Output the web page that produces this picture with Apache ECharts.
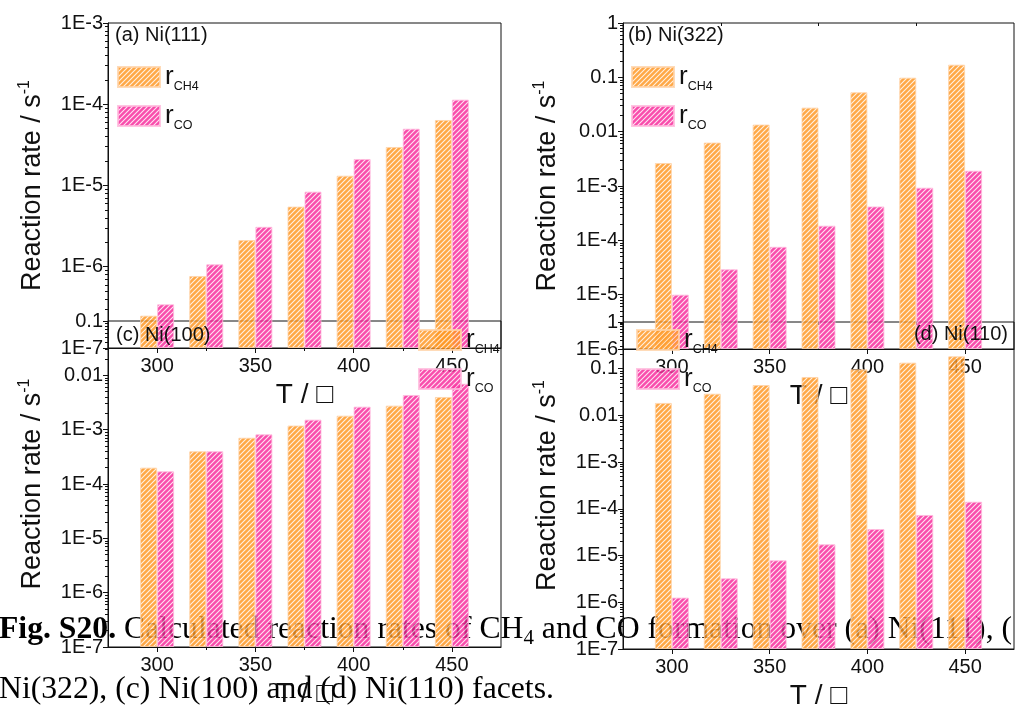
<!DOCTYPE html>
<html>
<head>
<meta charset="utf-8">
<script src="https://cdn.jsdelivr.net/npm/echarts@6/dist/echarts.min.js"></script>
<style>
  html, body { margin: 0; padding: 0; background: #fff; }
  #chart { width: 1017px; height: 715px; }
</style>
</head>
<body>
<div id="chart"></div>
<script>
// temperatures (°C)
const temps = [300, 325, 350, 375, 400, 425, 450];
const xTicks = [300, 350, 400, 450];
const xMinor = [325, 375, 425];

// reaction rates / s-1
const ch4_111 = [2.5e-7, 7.7e-7, 2.13e-6, 5.5e-6, 1.32e-5, 2.98e-5, 6.4e-5];
const co_111 = [3.45e-7, 1.07e-6, 3.1e-6, 8.4e-6, 2.12e-5, 5.0e-5, 1.14e-4];
const ch4_322 = [2.65e-3, 6.3e-3, 0.0135, 0.0277, 0.053, 0.0986, 0.171];
const co_322 = [1.0e-5, 2.93e-5, 7.6e-5, 1.86e-4, 4.2e-4, 9.3e-4, 1.91e-3];
const ch4_100 = [2.0e-4, 4.0e-4, 7.1e-4, 1.19e-3, 1.81e-3, 2.77e-3, 4.0e-3];
const co_100 = [1.71e-4, 4.0e-4, 8.2e-4, 1.53e-3, 2.65e-3, 4.35e-3, 7.0e-3];
const ch4_110 = [0.0185, 0.0292, 0.0448, 0.0665, 0.097, 0.135, 0.184];
const co_110 = [1.26e-6, 3.25e-6, 7.9e-6, 1.74e-5, 3.7e-5, 7.4e-5, 1.42e-4];

const panelLabels = ['(a) Ni(111)', '(b) Ni(322)', '(c) Ni(100)', '(d) Ni(110)'];
const yRanges = [[1e-7, 1e-3], [1e-6, 1], [1e-7, 0.1], [1e-7, 1]];
const ch4Sets = [ch4_111, ch4_322, ch4_100, ch4_110];
const coSets = [co_111, co_322, co_100, co_110];

const captionLine1 = '{b|Fig. S20.} Calculated reaction rates of CH{s|4} and CO formation over (a) Ni(111), (';
const captionLine2 = 'Ni(322), (c) Ni(100) and (d) Ni(110) facets.';

// layout of the four panels
const layout = [
  { left: 108, top: 23, width: 393, height: 325, labelX: 115, labelY: 25, align: 'left', legend: [117, 64] },
  { left: 623, top: 23, width: 391, height: 326, labelX: 628, labelY: 25, align: 'left', legend: [631, 64] },
  { left: 108, top: 321, width: 393, height: 326, labelX: 116, labelY: 325, align: 'left', legend: [418, 327] },
  { left: 623, top: 322, width: 391, height: 327, labelX: 1008, labelY: 324, align: 'right', legend: [636, 327] }
];

const SANS = 'Liberation Sans, Arial, sans-serif';
const SERIF = 'Liberation Serif, Times New Roman, serif';

function hatch(base) {
  const c = document.createElement('canvas');
  c.width = 5; c.height = 5;
  const g = c.getContext('2d');
  g.fillStyle = base;
  g.fillRect(0, 0, 5, 5);
  g.strokeStyle = 'rgba(255,255,255,0.85)';
  g.lineWidth = 1.1;
  g.beginPath();
  g.moveTo(-1, 6); g.lineTo(6, -1);
  g.moveTo(-3.5, 3.5); g.lineTo(3.5, -3.5);
  g.moveTo(1.5, 8.5); g.lineTo(8.5, 1.5);
  g.stroke();
  return { image: c, repeat: 'repeat' };
}
const orangeFill = hatch('#ff951e');
const pinkFill = hatch('#f8269a');

function logLabel(v) {
  const e = Math.round(Math.log10(v));
  if (e === 0) return '1';
  if (e >= -2) return Math.pow(10, e).toFixed(-e);
  return '1E' + e;
}

function minorLogTicks(range) {
  const out = [];
  const lo = Math.round(Math.log10(range[0]));
  const hi = Math.round(Math.log10(range[1]));
  for (let e = lo; e < hi; e++) {
    for (let k = 2; k <= 9; k++) out.push(e + Math.log10(k));
  }
  return out;
}

const grids = [], xAxes = [], yAxes = [], series = [], legends = [], graphics = [];

layout.forEach(function (L, p) {
  const range = yRanges[p];
  grids.push({
    left: L.left, top: L.top, width: L.width, height: L.height,
    show: true, borderColor: '#111', borderWidth: 1, backgroundColor: 'transparent'
  });
  xAxes.push({
    type: 'value', gridIndex: p, min: 275, max: 475, position: 'bottom',
    axisLine: { show: true, onZero: false, lineStyle: { color: '#111', width: 1 } },
    axisTick: { show: true, length: 5, customValues: xTicks, lineStyle: { color: '#111' } },
    axisLabel: { customValues: xTicks, fontSize: 20, margin: 8, color: '#111', fontFamily: SANS },
    splitLine: { show: false },
    name: 'T / \u25A1', nameLocation: 'middle', nameGap: 33,
    nameTextStyle: { fontSize: 28, color: '#111', fontFamily: SANS }
  });
  xAxes.push({
    type: 'value', gridIndex: p, min: 275, max: 475, position: 'bottom',
    axisLine: { show: false },
    axisTick: { show: true, length: 3, customValues: xMinor, lineStyle: { color: '#111' } },
    axisLabel: { show: false },
    splitLine: { show: false }
  });
  yAxes.push({
    type: 'log', logBase: 10, gridIndex: p, min: range[0], max: range[1], startValue: range[0],
    position: 'left',
    axisLine: { show: true, lineStyle: { color: '#111', width: 1 } },
    axisTick: { show: true, length: 5, lineStyle: { color: '#111' } },
    axisLabel: { fontSize: 20, margin: 5, color: '#111', fontFamily: SANS, formatter: logLabel },
    splitLine: { show: false },
    name: 'Reaction rate / s{p|-1}', nameLocation: 'middle', nameGap: 59,
    nameTextStyle: {
      fontSize: 27, lineHeight: 32, color: '#111', fontFamily: SANS,
      rich: { p: { fontSize: 16, padding: [0, 0, 16, 0], color: '#111', fontFamily: SANS } }
    }
  });
  yAxes.push({
    type: 'value', gridIndex: p, position: 'left',
    min: Math.log10(range[0]), max: Math.log10(range[1]),
    axisLine: { show: false },
    axisTick: { show: true, length: 3, customValues: minorLogTicks(range), lineStyle: { color: '#111' } },
    axisLabel: { show: false },
    splitLine: { show: false }
  });

  const common = {
    type: 'bar', xAxisIndex: 2 * p, yAxisIndex: 2 * p,
    barWidth: 17, barGap: '0%', silent: true,
    emphasis: { disabled: true }
  };
  series.push(Object.assign({}, common, {
    name: 'rCH4',
    data: temps.map((t, i) => [t, ch4Sets[p][i]]),
    itemStyle: { color: orangeFill, borderColor: '#ffd3a8', borderWidth: 1, opacity: 0.82 }
  }));
  series.push(Object.assign({}, common, {
    name: 'rCO',
    data: temps.map((t, i) => [t, coSets[p][i]]),
    itemStyle: { color: pinkFill, borderColor: '#ffb8dc', borderWidth: 1, opacity: 0.82 }
  }));

  legends.push({
    orient: 'vertical', left: L.legend[0], top: L.legend[1], padding: 0,
    itemWidth: 42, itemHeight: 20, itemGap: 10, icon: 'rect', selectedMode: false,
    data: ['rCH4', 'rCO'],
    formatter: function (n) { return 'r{s|' + n.slice(1) + '}'; },
    textStyle: {
      fontSize: 26, lineHeight: 26, color: '#111', fontFamily: SANS,
      rich: { s: { fontSize: 12.5, padding: [19, 0, 0, 0], color: '#111', fontFamily: SANS } }
    }
  });

  graphics.push({
    type: 'text', z: 100,
    left: L.align === 'left' ? L.labelX : null,
    right: L.align === 'right' ? 1017 - L.labelX : null,
    top: L.labelY,
    style: { text: panelLabels[p], fontSize: 20, fill: '#111', fontFamily: SANS }
  });
});

graphics.push({
  type: 'text', z: -1, left: -1, top: 610, silent: true,
  style: {
    text: captionLine1, fontSize: 31.7, lineHeight: 40, fill: '#000', fontFamily: SERIF,
    rich: {
      b: { fontSize: 31.7, fontWeight: 'bold', fontFamily: SERIF, fill: '#000' },
      s: { fontSize: 21, lineHeight: 20, padding: [16, 0, 0, 0], fontFamily: SERIF, fill: '#000' }
    }
  }
});
graphics.push({
  type: 'text', z: -1, left: -1, top: 670, silent: true,
  style: { text: captionLine2, fontSize: 31.7, lineHeight: 40, fill: '#000', fontFamily: SERIF }
});

const chart = echarts.init(document.getElementById('chart'), null, { renderer: 'canvas' });
chart.setOption({
  animation: false,
  backgroundColor: '#fff',
  grid: grids,
  xAxis: xAxes,
  yAxis: yAxes,
  legend: legends,
  graphic: { elements: graphics },
  series: series
});
</script>
</body>
</html>
